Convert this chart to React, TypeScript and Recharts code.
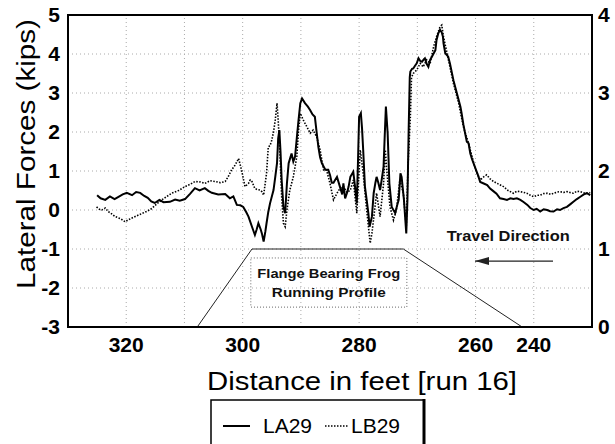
import React from "react";
import {
  LineChart,
  Line,
  XAxis,
  YAxis,
  CartesianGrid,
  ReferenceLine,
  ReferenceArea,
  ReferenceDot,
  Legend,
} from "recharts";

const FONT = "'Liberation Sans', Arial, sans-serif";

// ---- Data ----
const laDist = [
  325.0, 324.4, 323.6, 322.8, 322.0, 321.4, 320.6, 319.9, 319.0, 318.3, 317.6, 316.9, 316.3, 315.7, 315.1,
  314.3, 313.6, 312.5, 311.6, 310.8, 309.9, 309.0, 308.2, 307.4, 306.5, 305.9, 305.3, 304.2, 303.0, 302.2,
  301.6, 301.0, 300.4, 299.9, 299.4, 299.0, 298.4, 297.9, 297.6, 297.3, 296.9, 296.7, 296.4, 296.1, 295.9,
  295.6, 295.3, 294.7, 294.4, 294.1, 293.9, 293.7, 293.5, 293.3, 293.0, 292.7, 292.4, 292.1, 291.8, 291.6,
  291.3, 291.0, 290.7, 290.4, 290.1, 289.8, 289.3, 288.8, 288.4, 288.0, 287.6, 287.3, 287.0, 286.7, 286.4,
  285.8, 285.3, 285.0, 284.7, 284.4, 283.8, 283.3, 282.9, 282.7, 282.4, 282.1, 281.8, 281.5, 281.0, 280.7,
  280.4, 280.2, 280.0, 279.7, 279.5, 279.3, 279.0, 278.7, 278.4, 278.2, 277.8, 277.5, 277.2, 277.0, 276.7,
  276.4, 276.1, 275.8, 275.6, 275.4, 275.1, 274.8, 274.4, 273.8, 273.5, 273.2, 272.9, 272.7, 272.3, 271.9,
  271.7, 271.5, 271.3, 271.2, 270.9, 270.7, 270.4, 270.1, 269.8, 269.5, 269.2, 268.9, 268.7, 268.4, 268.1,
  267.8, 267.5, 266.9, 266.7, 266.4, 266.1, 265.8, 265.6, 265.5, 265.2, 264.7, 264.4, 263.8, 263.2, 262.6,
  262.4, 262.1, 261.8, 261.5, 261.2, 260.9, 260.6, 260.1, 259.6, 259.2, 258.6, 258.0, 257.5, 257.0, 256.4,
  255.8, 255.2, 254.6, 254.0, 253.5, 252.9, 252.3, 251.7, 251.1, 250.6, 250.0, 249.5, 248.9, 248.3, 247.7,
  247.2, 246.6, 246.0, 245.5, 244.9, 244.3, 243.7, 243.2, 242.6, 242.0, 241.4, 240.9, 240.3,
];
const laForce = [
  0.38, 0.30, 0.26, 0.35, 0.28, 0.33, 0.40, 0.44, 0.38, 0.46, 0.44, 0.36, 0.31, 0.22, 0.18,
  0.26, 0.20, 0.21, 0.27, 0.24, 0.28, 0.42, 0.56, 0.50, 0.56, 0.49, 0.44, 0.40, 0.41, 0.30,
  0.35, 0.13, 0.12, 0.08, -0.05, -0.17, -0.43, -0.64, -0.50, -0.34, -0.50, -0.60, -0.81, -0.55, -0.34,
  -0.05, 0.17, 0.51, 0.85, 1.20, 1.84, 2.05, 1.50, 0.77, 0.08, -0.08, 0.68, 1.20, 1.35, 1.45,
  1.24, 1.37, 1.85, 2.31, 2.74, 2.86, 2.74, 2.65, 2.56, 2.45, 2.39, 2.00, 1.62, 1.35, 1.20,
  1.03, 1.03, 0.90, 0.70, 0.70, 0.85, 0.60, 0.40, 0.68, 0.30, 0.43, 0.60, 0.85, 0.98, 0.60,
  0.17, 1.20, 2.39, 2.48, 2.10, 1.54, 0.60, 0.26, -0.10, -0.43, -0.17, 0.43, 0.70, 0.85, 0.70,
  0.51, 0.80, 1.11, 1.90, 2.65, 1.97, 0.68, 0.08, -0.08, 0.10, 0.26, 0.94, 0.85, 0.26, -0.60,
  0.26, 1.97, 3.40, 3.55, 3.62, 3.63, 3.70, 3.76, 3.89, 3.82, 3.80, 3.86, 3.89, 3.75, 3.67,
  3.85, 3.93, 4.10, 4.36, 4.53, 4.62, 4.55, 4.44, 4.27, 4.02, 3.93, 3.76, 3.33, 2.99, 2.65,
  2.48, 2.20, 1.97, 1.75, 1.71, 1.45, 1.30, 1.10, 0.90, 0.72, 0.68, 0.64, 0.55, 0.49, 0.42,
  0.30, 0.28, 0.26, 0.30, 0.28, 0.30, 0.26, 0.20, 0.13, 0.05, 0.00, 0.03, -0.04, 0.02, 0.00,
  -0.03, -0.04, 0.02, 0.00, 0.05, 0.08, 0.15, 0.21, 0.28, 0.34, 0.40, 0.43, 0.38,
];

const lbDist = [
  325.1, 324.6, 324.2, 323.6, 323.1, 322.5, 321.9, 321.0, 320.2, 319.6, 319.1, 318.2, 317.3, 316.4, 315.6,
  314.8, 313.9, 313.0, 312.2, 311.0, 309.9, 309.0, 308.2, 307.3, 306.5, 305.6, 304.7, 303.8, 303.0, 302.5,
  301.9, 301.3, 300.7, 300.2, 299.6, 299.0, 298.7, 298.4, 297.9, 297.4, 297.0, 296.7, 296.4, 295.9, 295.6,
  295.3, 295.0, 294.7, 294.4, 294.1, 293.9, 293.6, 293.3, 293.0, 292.7, 292.4, 291.9, 291.3, 290.7, 290.4,
  290.1, 289.6, 289.0, 288.4, 287.9, 287.3, 286.7, 286.1, 285.6, 285.0, 284.4, 283.8, 283.3, 282.7, 282.1,
  281.5, 281.0, 280.4, 279.8, 279.3, 278.7, 278.1, 277.8, 277.0, 276.4, 275.8, 275.5, 275.3, 274.7, 274.1,
  273.6, 273.0, 272.4, 271.9, 271.6, 271.2, 271.0, 270.7, 270.4, 270.1, 269.5, 269.0, 268.4, 267.8, 267.2,
  266.7, 266.1, 265.8, 265.5, 264.9, 264.4, 263.8, 262.9, 262.1, 261.2, 260.6, 260.3, 259.9, 259.2, 258.6,
  258.1, 257.5, 256.9, 256.0, 255.2, 254.4, 253.5, 252.9, 252.3, 251.7, 251.2, 250.6, 250.0, 249.4, 248.9,
  248.3, 247.7, 247.1, 246.6, 246.0, 245.5, 244.9, 244.3, 243.8, 243.2, 242.6, 242.0, 241.4, 240.9, 240.3,
];
const lbForce = [
  0.08, 0.02, 0.00, 0.05, -0.04, -0.10, -0.17, -0.22, -0.30, -0.25, -0.21, -0.15, -0.09, -0.03, 0.04,
  0.15, 0.26, 0.35, 0.43, 0.50, 0.60, 0.66, 0.73, 0.72, 0.68, 0.75, 0.73, 0.70, 0.73, 0.85,
  1.03, 1.15, 1.32, 1.03, 0.60, 0.68, 0.77, 0.73, 0.55, 0.52, 0.51, 0.47, 0.38, 0.94, 1.62,
  1.65, 1.79, 2.00, 2.31, 2.74, 2.31, 1.45, 0.34, -0.34, -0.43, 0.00, 0.51, 0.85, 1.37, 2.05,
  2.48, 2.31, 2.14, 1.97, 2.05, 1.88, 1.54, 1.03, 1.03, 0.68, 0.26, 0.43, 0.55, 0.60, 0.45,
  0.51, 0.77, -0.08, 1.54, 0.94, 0.00, -0.85, -0.60, 0.43, -0.17, 0.68, 1.54, 1.11, 0.08, -0.26,
  0.00, 0.77, 0.43, -0.43, 1.11, 2.39, 3.40, 3.50, 3.55, 3.59, 3.76, 3.67, 3.85, 3.76, 4.19,
  4.44, 4.70, 4.74, 4.44, 4.02, 3.67, 3.25, 2.74, 2.14, 1.71, 1.37, 1.20, 1.00, 0.77, 0.85,
  0.90, 0.80, 0.73, 0.66, 0.60, 0.50, 0.43, 0.48, 0.47, 0.45, 0.43, 0.38, 0.34, 0.38, 0.38,
  0.42, 0.43, 0.40, 0.43, 0.46, 0.47, 0.45, 0.47, 0.45, 0.43, 0.48, 0.47, 0.44, 0.43, 0.45,
];

// Frog running profile, in right-axis units
const profileDist = [307.8, 298.4, 272.4, 252.0];
const profileHeight = [0, 1, 1, 0];

const xTickValues = [320, 300, 280, 260, 250];
const xTickLabels = ["320", "300", "280", "260", "240"];
const leftTicks = [-3, -2, -1, 0, 1, 2, 3, 4, 5];
const rightTicks = [0, 1, 2, 3, 4];
const gridX = [320, 310, 300, 290, 280, 270, 260, 250];

const seriesNames = ["LA29", "LB29"];

const laData = laDist.map((d, i) => ({ d, v: laForce[i] }));
const lbData = lbDist.map((d, i) => ({ d, v: lbForce[i] }));
const profileData = profileDist.map((d, i) => ({ d, p: profileHeight[i] }));

const XTitle = (props: any) => {
  const vb = props.viewBox || {};
  return (
    <text
      x={vb.x + vb.width / 2 + 32}
      y={vb.y + 63}
      textAnchor="middle"
      fontFamily={FONT}
      fontSize={25}
      fill="#000"
      textLength={310}
      lengthAdjust="spacingAndGlyphs"
    >
      Distance in feet [run 16]
    </text>
  );
};

const YTitle = (props: any) => {
  const vb = props.viewBox || {};
  const cx = 35;
  const cy = vb.y + 139;
  return (
    <text
      transform={`translate(${cx},${cy}) rotate(-90)`}
      x={0}
      y={0}
      textAnchor="middle"
      fontFamily={FONT}
      fontSize={25}
      fill="#000"
      textLength={270}
      lengthAdjust="spacingAndGlyphs"
    >
      Lateral Forces (kips)
    </text>
  );
};

const ProfileLabel = (props: any) => {
  const vb = props.viewBox || {};
  const cx = vb.x + vb.width / 2;
  const cy = vb.y + vb.height / 2;
  return (
    <g fontFamily={FONT} fontSize={13} fontWeight="bold" fill="#111" textAnchor="middle">
      <text x={cx} y={cy - 5} textLength={143} lengthAdjust="spacingAndGlyphs">
        Flange Bearing Frog
      </text>
      <text x={cx} y={cy + 14} textLength={114} lengthAdjust="spacingAndGlyphs">
        Running Profile
      </text>
    </g>
  );
};

const TravelText = (props: any) => (
  <text
    x={props.cx}
    y={props.cy + 6}
    textAnchor="middle"
    fontFamily={FONT}
    fontSize={15}
    fontWeight="bold"
    fill="#111"
    textLength={123}
    lengthAdjust="spacingAndGlyphs"
  >
    Travel Direction
  </text>
);

const Arrow = (props: any) => {
  const { x1, y1, x2, y2 } = props;
  const tipX = Math.min(x1, x2);
  const y = (y1 + y2) / 2;
  return (
    <g>
      <line x1={x1} y1={y} x2={x2} y2={y} stroke="#222" strokeWidth={1.2} />
      <polygon points={`${tipX},${y} ${tipX + 14},${y - 4} ${tipX + 14},${y + 4}`} fill="#222" />
    </g>
  );
};

const renderLegend = () => (
  <div style={{ position: "relative", width: 216, height: 45, overflow: "hidden" }}>
    <svg width={216} height={45} style={{ display: "block" }}>
      <rect x={1} y={1} width={213} height={60} fill="#fff" stroke="#000" strokeWidth={1.5} />
      <line x1={214} y1={0} x2={214} y2={45} stroke="#000" strokeWidth={3} />
      <line x1={13} y1={27} x2={40} y2={27} stroke="#000" strokeWidth={2} />
      <text x={53} y={34} fontFamily={FONT} fontSize={21} fill="#000">
        {seriesNames[0]}
      </text>
      <line x1={115} y1={27} x2={138} y2={27} stroke="#000" strokeWidth={1.5} strokeDasharray="1.5 1.5" />
      <text x={141} y={34} fontFamily={FONT} fontSize={21} fill="#000">
        {seriesNames[1]}
      </text>
    </svg>
  </div>
);

export default function App() {
  const tickStyle = { fontSize: 21, fill: "#000", fontFamily: FONT, fontWeight: "bold" as const };
  return (
    <div style={{ position: "absolute", left: 0, top: 0, width: 615, height: 444, background: "#fff" }}>
      <LineChart width={615} height={444} margin={{ top: 15, right: 0, bottom: 0, left: 0 }}>
        <CartesianGrid vertical={false} stroke="#aaa" strokeDasharray="1 3" />
        {gridX.map((g) => (
          <ReferenceLine key={g} x={g} stroke="#aaa" strokeDasharray="1 3" />
        ))}
        <XAxis
          dataKey="d"
          type="number"
          domain={[240, 330]}
          reversed
          allowDataOverflow
          ticks={xTickValues}
          interval={0}
          tickFormatter={(v: number) => xTickLabels[xTickValues.indexOf(v)] ?? String(v)}
          tickLine={false}
          tickMargin={4}
          height={72}
          axisLine={{ stroke: "#000", strokeWidth: 2 }}
          tick={tickStyle}
          label={{ content: XTitle }}
        />
        <YAxis
          type="number"
          domain={[-3, 5]}
          ticks={leftTicks}
          interval={0}
          width={68}
          tickLine={false}
          axisLine={{ stroke: "#000", strokeWidth: 2 }}
          tick={tickStyle}
          label={{ content: YTitle }}
        />
        <YAxis
          yAxisId="right"
          orientation="right"
          type="number"
          domain={[0, 4]}
          ticks={rightTicks}
          interval={0}
          width={23}
          tickLine={false}
          tickSize={4}
          axisLine={{ stroke: "#000", strokeWidth: 2 }}
          tick={tickStyle}
        />
        <ReferenceArea
          x1={330}
          x2={240}
          y1={-3}
          y2={5}
          fill="none"
          fillOpacity={0}
          stroke="#000"
          strokeWidth={2}
        />
        <ReferenceArea
          x1={298.6}
          x2={271.8}
          y1={-2.49}
          y2={-1.23}
          fill="none"
          fillOpacity={0}
          stroke="#666"
          strokeDasharray="1 2"
          label={{ content: ProfileLabel }}
        />
        <ReferenceDot x={254.4} y={-0.64} r={0} shape={TravelText} />
        <ReferenceLine
          segment={[
            { x: 246.7, y: -1.31 },
            { x: 260.1, y: -1.31 },
          ]}
          shape={Arrow}
        />
        <Line
          yAxisId="right"
          data={profileData}
          dataKey="p"
          stroke="#222"
          strokeWidth={1}
          dot={false}
          isAnimationActive={false}
          legendType="none"
        />
        <Line
          data={lbData}
          dataKey="v"
          name={seriesNames[1]}
          stroke="#000"
          strokeWidth={1.6}
          strokeDasharray="1.5 1.5"
          dot={false}
          isAnimationActive={false}
        />
        <Line
          data={laData}
          dataKey="v"
          name={seriesNames[0]}
          stroke="#000"
          strokeWidth={2}
          dot={false}
          isAnimationActive={false}
        />
        <Legend
          verticalAlign="bottom"
          content={renderLegend}
          wrapperStyle={{ left: 210, width: 216, height: 45, bottom: 0 }}
        />
      </LineChart>
    </div>
  );
}
